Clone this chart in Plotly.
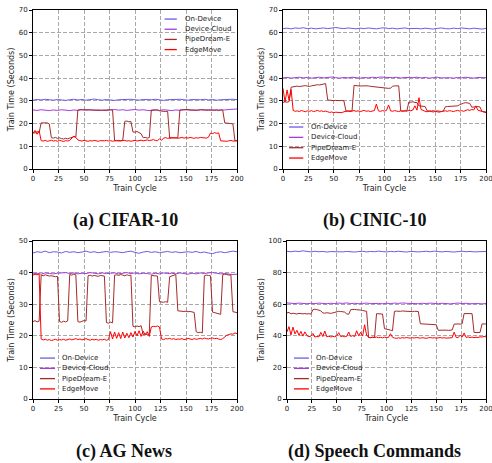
import plotly.graph_objects as go

# ---------------- data ----------------
CYCLES_FINE = list(range(0, 201, 2))     # PipeDream-E / EdgeMove sampled every 2 cycles
CYCLES_COARSE = list(range(0, 201, 4))   # flat baselines sampled every 4 cycles

SERIES = ["On-Device", "Device-Cloud", "PipeDream-E", "EdgeMove"]
CAPTIONS = ["(a) CIFAR-10", "(b) CINIC-10", "(c) AG News", "(d) Speech Commands"]
X_TICKS = [0, 25, 50, 75, 100, 125, 150, 175, 200]

# (a) CIFAR-10
ON_A = [30.3, 30.6, 30.4, 30.7, 30.5, 30.3, 30.6, 30.4, 30.2, 30.5,
        30.7, 30.4, 30.6, 30.3, 30.5, 30.8, 30.5, 30.3, 30.6, 30.4,
        30.2, 30.5, 30.6, 30.4, 30.7, 30.5, 30.3, 30.6, 30.4, 30.5,
        30.7, 30.4, 30.2, 30.5, 30.6, 30.4, 30.7, 30.5, 30.3, 30.6,
        30.4, 30.5, 30.7, 30.4, 30.6, 30.3, 30.5, 30.6, 30.4, 30.7,
        30.5]
DC_A = [26.0, 25.8, 26.1, 25.9, 25.7, 26.0, 25.8, 26.1, 25.9, 25.7,
        26.0, 25.8, 26.2, 25.9, 26.1, 25.8, 26.0, 25.9, 25.7, 26.0,
        26.2, 25.9, 26.1, 25.8, 26.0, 26.2, 25.9, 26.1, 25.8, 25.7,
        26.0, 25.8, 26.1, 25.9, 25.7, 26.0, 25.8, 26.1, 25.9, 26.0,
        25.8, 26.1, 25.9, 25.8, 26.0, 25.9, 26.1, 26.0, 26.2, 26.3,
        26.4]
PD_A = [16.2, 15.8, 16.5, 16.0, 20.3, 20.4, 20.2, 20.3, 19.8, 13.8,
        13.6, 13.9, 13.5, 13.7, 13.4, 13.2, 13.5, 13.3, 13.6, 13.9,
        14.2, 14.0, 26.0, 26.1, 25.9, 26.0, 26.1, 25.9, 26.0, 26.0,
        25.9, 26.1, 26.0, 25.8, 25.9, 26.0, 26.1, 26.0, 26.1, 26.0,
        12.5, 12.4, 12.6, 12.4, 12.7, 21.0, 21.1, 20.8, 20.9, 16.3,
        16.2, 16.5, 16.0, 15.5, 13.8, 13.9, 13.6, 13.8, 26.0, 26.1,
        25.9, 26.0, 25.6, 25.4, 25.5, 25.3, 25.4, 13.5, 13.6, 13.8,
        13.6, 13.9, 26.0, 26.1, 25.9, 26.0, 26.2, 26.0, 25.9, 26.1,
        26.0, 25.9, 26.1, 26.0, 25.8, 26.0, 26.1, 25.9, 26.0, 25.8,
        26.0, 25.7, 26.0, 25.9, 20.3, 20.2, 20.4, 20.0, 19.8, 12.4,
        12.5]
EM_A = [15.5, 17.0, 15.3, 16.8, 12.5, 12.3, 12.6, 12.2, 12.4, 12.7,
        12.3, 12.5, 12.2, 12.6, 12.4, 12.1, 12.5, 12.3, 12.6, 13.8,
        14.5, 13.9, 12.8, 12.5, 12.3, 12.6, 12.4, 12.2, 12.5, 12.3,
        12.6, 12.4, 12.2, 12.5, 12.3, 12.4, 12.6, 12.3, 12.5, 12.2,
        12.4, 12.6, 12.3, 12.5, 12.4, 12.6, 12.3, 12.5, 12.2, 12.4,
        12.6, 12.3, 12.5, 12.7, 12.4, 12.6, 12.8, 12.5, 12.7, 12.9,
        12.6, 12.4, 13.3, 12.6, 13.6, 13.8, 13.5, 13.7, 13.9, 13.6,
        13.8, 13.5, 13.7, 13.9, 13.6, 13.8, 13.6, 13.9, 13.7, 13.5,
        13.8, 13.6, 13.9, 13.7, 13.8, 13.6, 14.0, 15.8, 15.6, 16.0,
        15.7, 15.9, 12.4, 12.3, 12.5, 12.2, 12.4, 12.6, 12.3, 12.5,
        12.4]

# (b) CINIC-10
ON_B = [61.8, 62.0, 61.7, 62.1, 61.9, 62.2, 61.8, 62.0, 61.7, 61.9,
        62.1, 61.8, 62.2, 62.3, 62.0, 61.8, 62.1, 61.9, 61.7, 62.0,
        61.8, 62.1, 61.9, 61.7, 62.0, 62.2, 61.8, 62.0, 61.7, 61.9,
        62.1, 61.8, 62.0, 61.9, 61.7, 62.0, 61.8, 61.6, 61.9, 62.1,
        61.8, 61.7, 62.0, 61.8, 62.1, 61.9, 61.7, 62.0, 61.8, 61.6,
        61.9]
DC_B = [40.1, 40.3, 40.0, 40.2, 40.4, 40.1, 40.3, 40.0, 40.2, 40.4,
        40.1, 40.3, 40.5, 40.2, 40.0, 40.3, 40.1, 40.4, 40.2, 40.0,
        40.3, 40.1, 40.4, 40.2, 40.5, 40.3, 40.1, 40.2, 40.4, 40.0,
        40.3, 40.1, 40.2, 40.4, 40.1, 40.3, 40.0, 40.2, 40.4, 40.1,
        40.3, 40.2, 40.0, 40.3, 40.1, 40.4, 40.2, 40.0, 40.3, 40.1,
        40.2]
PD_B = [29.3, 29.6, 29.4, 29.7, 36.0, 36.2, 36.3, 36.5, 36.3, 36.5,
        36.4, 36.7, 36.5, 36.3, 36.6, 36.8, 36.9, 37.1, 37.0, 37.3,
        37.5, 37.6, 30.4, 30.2, 30.3, 30.1, 30.2, 30.0, 30.1, 30.2,
        30.0, 25.6, 25.4, 25.6, 25.5, 36.8, 36.6, 36.7, 36.5, 36.6,
        36.7, 36.5, 36.6, 36.4, 36.3, 36.2, 36.0, 35.8, 35.7, 35.5,
        35.4, 35.3, 35.5, 35.6, 36.4, 36.6, 36.5, 36.6, 25.6, 25.4,
        25.5, 25.6, 29.5, 29.4, 29.6, 29.3, 29.2, 27.8, 27.6, 27.7,
        27.5, 25.6, 25.4, 25.5, 25.7, 25.4, 25.6, 25.5, 25.3, 25.6,
        27.4, 27.5, 27.6, 27.5, 27.7, 27.6, 27.8, 28.3, 28.8, 29.0,
        29.2, 29.1, 28.9, 27.2, 27.4, 27.6, 27.5, 27.3, 25.4, 25.2,
        25.1]
EM_B = [35.5, 29.5, 34.8, 30.2, 35.0, 25.8, 25.4, 25.6, 25.3, 25.7,
        25.5, 25.2, 25.6, 25.4, 25.7, 25.3, 25.5, 25.8, 25.4, 25.6,
        25.3, 25.5, 25.2, 24.9, 25.1, 24.8, 25.0, 24.9, 25.1, 24.8,
        25.2, 25.4, 25.6, 25.3, 25.5, 25.7, 25.4, 25.6, 25.3, 25.5,
        25.8, 25.4, 25.6, 25.3, 25.5, 25.7, 28.6, 25.6, 25.4, 25.7,
        25.5, 25.8, 28.2, 25.6, 25.4, 25.7, 25.5, 25.3, 25.6, 25.4,
        25.7, 25.5, 25.8, 25.6, 26.0, 27.8, 25.9, 31.4, 26.2, 25.7,
        25.4, 25.2, 25.5, 25.3, 25.1, 25.4, 25.2, 25.0, 25.3, 25.5,
        25.6, 25.4, 25.7, 25.5, 25.3, 25.6, 25.8, 25.5, 25.7, 25.4,
        25.9, 26.1, 25.8, 26.2, 26.0, 27.8, 25.9, 25.6, 25.3, 25.0,
        24.8]

# (c) AG News
ON_C = [46.2, 46.6, 46.4, 46.8, 46.3, 46.6, 46.5, 46.2, 46.7, 46.4,
        46.6, 46.3, 46.5, 46.8, 46.4, 46.6, 46.3, 46.5, 46.7, 46.4,
        46.6, 46.5, 46.3, 46.6, 46.8, 46.4, 46.1, 46.5, 46.7, 46.4,
        46.6, 46.3, 46.5, 46.7, 46.4, 46.6, 46.3, 46.5, 46.6, 46.4,
        46.7, 46.3, 46.5, 46.2, 46.0, 46.4, 46.6, 46.3, 46.5, 46.8,
        46.6]
DC_C = [39.6, 39.8, 39.5, 39.9, 39.7, 39.6, 39.8, 39.9, 40.0, 39.7,
        39.9, 39.6, 39.8, 39.7, 40.0, 39.8, 39.6, 39.9, 39.7, 39.8,
        39.9, 39.6, 39.8, 40.0, 39.7, 39.9, 39.6, 39.8, 39.7, 39.5,
        39.8, 39.6, 39.9, 39.7, 39.8, 39.6, 39.9, 39.7, 39.5, 39.8,
        39.6, 39.9, 39.7, 39.9, 40.0, 39.8, 39.6, 39.7, 39.5, 39.4,
        39.5]
PD_C = [24.5, 24.8, 24.4, 24.6, 39.2, 39.0, 39.3, 39.1, 38.9, 39.0,
        38.8, 38.7, 38.8, 24.5, 24.3, 24.6, 24.4, 24.7, 39.4, 39.2,
        39.5, 39.3, 24.5, 24.3, 24.6, 24.8, 24.7, 39.0, 39.2, 38.9,
        39.1, 39.0, 38.8, 39.1, 39.0, 38.9, 24.2, 24.0, 24.3, 24.1,
        39.2, 39.3, 39.1, 39.4, 39.2, 39.0, 39.3, 39.1, 39.2, 23.0,
        22.8, 23.1, 22.9, 23.2, 20.4, 20.7, 20.3, 20.6, 39.1, 39.0,
        38.8, 38.9, 30.8, 30.7, 30.6, 30.8, 30.6, 38.7, 38.9, 39.2,
        39.4, 27.9, 27.8, 27.9, 27.7, 27.8, 27.6, 27.7, 27.5, 27.4,
        21.3, 21.0, 21.1, 20.9, 39.0, 39.2, 39.1, 39.0, 27.5, 27.3,
        27.1, 26.9, 26.8, 39.3, 39.5, 39.4, 39.2, 39.3, 27.6, 27.5,
        27.3]
EM_C = [39.2, 39.5, 39.3, 39.6, 19.0, 18.7, 18.9, 18.6, 18.8, 18.5,
        18.7, 18.9, 18.6, 18.8, 18.7, 18.9, 18.6, 18.8, 19.0, 18.7,
        18.9, 19.1, 18.8, 19.0, 18.7, 18.9, 19.1, 18.8, 18.6, 18.9,
        18.7, 18.9, 18.6, 18.8, 18.7, 18.9, 18.6, 18.8, 21.3, 19.0,
        21.2, 19.2, 21.0, 19.1, 21.2, 19.3, 20.8, 19.4, 21.0, 19.6,
        21.4, 20.0, 21.6, 19.8, 21.5, 20.2, 21.3, 19.8, 22.8, 23.0,
        22.9, 23.1, 22.8, 19.0, 18.8, 19.1, 19.0, 19.2, 18.9, 19.1,
        18.8, 19.0, 18.9, 19.1, 18.8, 18.9, 19.2, 19.0, 18.8, 19.1,
        18.9, 19.0, 19.2, 19.0, 19.3, 19.1, 19.0, 19.2, 19.3, 19.1,
        19.2, 19.0, 18.8, 19.1, 19.6, 20.2, 20.4, 20.6, 20.5, 20.9,
        20.7]

# (d) Speech Commands
ON_D = [93.5, 93.2, 93.6, 93.3, 93.8, 93.4, 93.1, 93.5, 93.2, 93.4,
        93.0, 93.3, 93.2, 93.5, 93.1, 93.4, 93.2, 93.0, 93.3, 93.5,
        93.1, 93.4, 93.2, 93.6, 93.3, 93.1, 93.4, 93.2, 93.5, 93.3,
        93.0, 93.4, 93.2, 93.1, 93.3, 93.5, 93.2, 93.6, 93.3, 93.1,
        93.4, 93.2, 93.0, 93.3, 93.5, 93.2, 93.4, 93.1, 93.3, 93.2,
        93.4]
DC_D = [60.8, 60.6, 60.4, 60.7, 60.5, 60.3, 60.6, 60.4, 60.7, 60.5,
        60.3, 60.6, 60.4, 60.7, 60.5, 60.8, 60.4, 60.6, 60.3, 60.5,
        60.7, 60.4, 60.6, 60.5, 60.3, 60.6, 60.4, 60.7, 60.5, 60.8,
        60.6, 60.4, 60.5, 60.3, 60.6, 60.4, 60.7, 60.5, 60.3, 60.6,
        60.4, 60.2, 60.5, 60.7, 60.4, 60.6, 60.3, 60.5, 60.4, 60.2,
        60.4]
PD_D = [54.5, 54.8, 53.9, 54.3, 54.0, 53.8, 54.2, 54.0, 53.9, 54.1,
        53.8, 54.0, 53.7, 56.5, 56.8, 56.6, 56.4, 55.8, 54.5, 54.3,
        54.6, 54.4, 54.2, 54.5, 54.8, 55.3, 55.5, 55.4, 55.2, 55.0,
        53.9, 53.6, 56.5, 56.8, 56.7, 56.5, 56.6, 56.3, 56.0, 55.8,
        55.5, 39.0, 38.8, 39.1, 38.9, 54.0, 53.9, 54.1, 53.8, 44.5,
        44.3, 44.1, 43.6, 43.2, 55.5, 55.6, 55.4, 55.5, 55.7, 55.6,
        55.4, 55.5, 55.6, 55.3, 55.5, 55.6, 55.4, 47.6, 47.5, 47.6,
        47.4, 47.5, 47.3, 47.2, 47.1, 47.0, 43.5, 43.6, 43.4, 43.5,
        43.6, 43.4, 43.5, 43.7, 47.4, 47.6, 47.5, 47.4, 47.6, 54.1,
        54.0, 54.2, 53.9, 54.0, 42.1, 42.0, 42.2, 42.1, 47.5, 47.6,
        47.5]
EM_D = [42.5, 45.8, 40.5, 45.5, 41.2, 43.5, 40.3, 42.8, 39.8, 42.5,
        40.2, 39.4, 39.8, 41.5, 39.2, 39.6, 39.3, 42.2, 39.5, 43.0,
        39.4, 39.7, 39.3, 39.6, 39.4, 40.0, 42.0, 39.5, 39.8, 39.4,
        39.7, 42.4, 39.6, 40.1, 39.5, 43.2, 40.0, 42.2, 39.8, 47.0,
        40.5, 39.0, 38.8, 39.1, 38.9, 39.2, 38.8, 39.0, 38.7, 39.1,
        38.9, 39.0, 41.3, 39.1, 38.6, 38.4, 38.7, 38.5, 38.8, 38.6,
        38.9, 38.7, 38.5, 38.8, 38.6, 38.9, 38.7, 38.5, 38.8, 38.6,
        38.4, 38.7, 38.9, 38.6, 38.8, 38.5, 38.7, 38.9, 38.6, 38.8,
        38.5, 38.7, 39.0, 38.8, 42.3, 39.0, 38.8, 40.5, 39.2, 41.8,
        39.0, 39.3, 38.9, 39.2, 38.8, 39.1, 38.9, 39.4, 39.2, 39.6,
        39.3]

Y_MAX = [70, 70, 50, 100]
Y_DTICK = [10, 10, 10, 20]

for arr in (ON_A, DC_A, ON_B, DC_B, ON_C, DC_C, ON_D, DC_D):
    assert len(arr) == len(CYCLES_COARSE), len(arr)
for arr in (PD_A, EM_A, PD_B, EM_B, PD_C, EM_C, PD_D, EM_D):
    assert len(arr) == len(CYCLES_FINE), len(arr)

PANEL_DATA = [
    (ON_A, DC_A, PD_A, EM_A),
    (ON_B, DC_B, PD_B, EM_B),
    (ON_C, DC_C, PD_C, EM_C),
    (ON_D, DC_D, PD_D, EM_D),
]

# ---------------- styling ----------------
COLORS = ["#6B5CE6", "#A23CDC", "#A52A2A", "#FF0000"]
W, H = 492, 463
FONT = "DejaVu Sans, Verdana, sans-serif"
GRID = "#a8a8a8"
TXT = "#222222"

# plot area boxes in screen pixels: (left, right, top, bottom)
BOXES = [(33, 237, 10, 169), (283, 486, 10, 169),
         (33, 237, 241, 399), (287, 486, 241, 399)]
CAPTION_POS = [(125, 220), (375, 220), (124, 451), (374, 451)]
# legend placement (domain fractions): sample x0, x1, text x, first row y, row step
LEGEND_POS = [
    (0.645, 0.705, 0.735, 0.943, 0.064),
    (0.030, 0.100, 0.128, 0.264, 0.065),
    (0.034, 0.108, 0.132, 0.259, 0.065),
    (0.035, 0.110, 0.136, 0.259, 0.065),
]


def px_x(v):
    return v / W


def px_y(v):
    return 1 - v / H


fig = go.Figure()
shapes = []
annotations = []

for p in range(4):
    sfx = "" if p == 0 else str(p + 1)
    xa, ya = "x" + sfx, "y" + sfx
    on, dc, pd_, em = PANEL_DATA[p]
    xs_list = [CYCLES_COARSE, CYCLES_COARSE, CYCLES_FINE, CYCLES_FINE]
    for k, vals in enumerate((on, dc, pd_, em)):
        fig.add_trace(go.Scatter(
            x=xs_list[k], y=vals, mode="lines", name=SERIES[k],
            line=dict(color=COLORS[k], width=1),
            xaxis=xa, yaxis=ya, showlegend=False,
        ))

    l, r, t, b = BOXES[p]
    axis_common = dict(
        showline=True, linecolor="black", linewidth=1, mirror=True,
        ticks="outside", ticklen=3, tickwidth=0.8, tickcolor="black",
        showgrid=True, gridcolor=GRID, gridwidth=0.9, griddash="4px,2px",
        zeroline=False, tickfont=dict(family=FONT, size=7, color=TXT),
        automargin=False, ticklabeloverflow="allow",
    )
    fig.layout["xaxis" + sfx] = dict(
        axis_common, domain=[px_x(l), px_x(r)], anchor=ya, range=[0, 200],
        tickvals=X_TICKS,
        title=dict(text="Train Cycle", font=dict(family=FONT, size=8, color=TXT), standoff=2),
    )
    fig.layout["yaxis" + sfx] = dict(
        axis_common, domain=[px_y(b), px_y(t)], anchor=xa,
        range=[0, Y_MAX[p]], dtick=Y_DTICK[p], tick0=0,
        title=dict(text="Train Time (Seconds)", font=dict(family=FONT, size=8, color=TXT), standoff=2),
    )

    # legend (drawn per panel)
    sx0, sx1, tx, y0, dy = LEGEND_POS[p]
    for k, name in enumerate(SERIES):
        yy = y0 - k * dy
        shapes.append(dict(type="line", xref=xa + " domain", yref=ya + " domain",
                           x0=sx0, x1=sx1, y0=yy, y1=yy,
                           line=dict(color=COLORS[k], width=1.3)))
        annotations.append(dict(text=name, xref=xa + " domain", yref=ya + " domain",
                                x=tx, y=yy, xanchor="left", yanchor="middle",
                                showarrow=False,
                                font=dict(family=FONT, size=7, color=TXT)))

    cx, cy = CAPTION_POS[p]
    annotations.append(dict(text="<b>" + CAPTIONS[p] + "</b>", xref="paper", yref="paper",
                            x=px_x(cx), y=px_y(cy), xanchor="center", yanchor="middle",
                            showarrow=False,
                            font=dict(family="Liberation Serif, Times New Roman, serif",
                                      size=18, color="#111111")))

fig.update_layout(
    width=W, height=H, margin=dict(l=0, r=0, t=0, b=0),
    paper_bgcolor="white", plot_bgcolor="white",
    showlegend=False, shapes=shapes, annotations=annotations,
)

# remove the browser's default page margin so the figure sits at the window origin
fig.write_html("out.html",
               config={"displayModeBar": False},
               post_script="document.body.style.margin='0';document.body.style.overflow='hidden';")
